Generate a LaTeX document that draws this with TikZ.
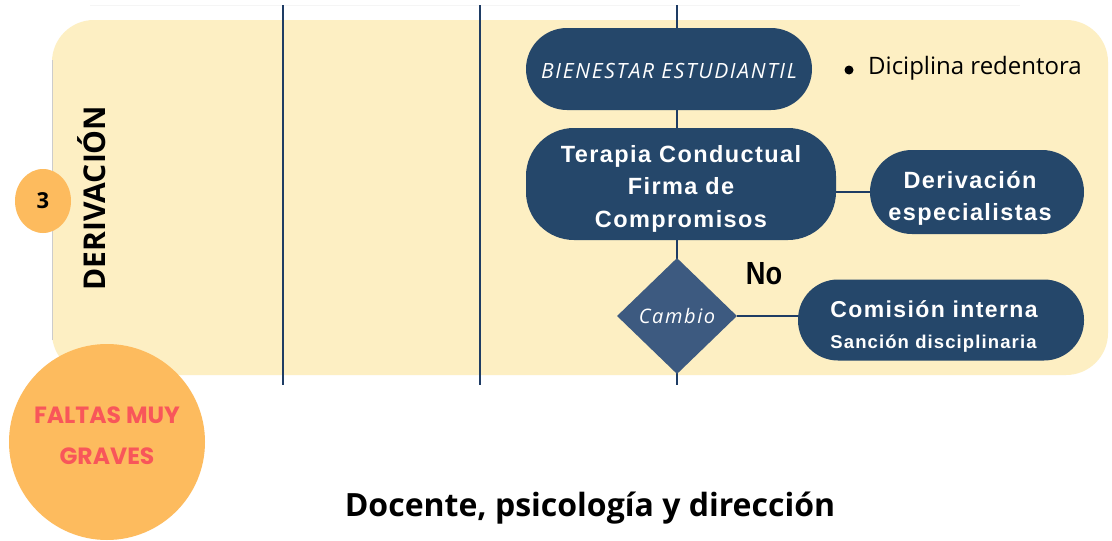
\documentclass[tikz,border=0pt]{standalone}
\usepackage{fontspec}
\usetikzlibrary{shapes.geometric}
\setmainfont{Open Sans}
\newfontfamily\boxfont[LetterSpace=6]{Liberation Sans}
\newfontfamily\handfont[LetterSpace=8]{Open Sans}
\newfontfamily\markfont{Poppins}
\newfontfamily\nofont{Liberation Sans}
\definecolor{band}{HTML}{FDEFC3}
\definecolor{navy}{HTML}{25476A}
\definecolor{dia}{HTML}{3D5A80}
\definecolor{lane}{HTML}{1E3C64}
\definecolor{orangec}{HTML}{FDBB5E}
\definecolor{redt}{HTML}{F8565A}
\newcommand{\shiftc}[2]{\raisebox{#1}[\height][\depth]{\begin{tabular}{@{}c@{}}#2\end{tabular}}}
\newcommand{\shiftl}[2]{\raisebox{#1}[\height][\depth]{\begin{tabular}{@{}l@{}}#2\end{tabular}}}
\begin{document}
\begin{tikzpicture}[x=1pt,y=-1pt,
  navybox/.style={fill=navy,text=white,inner sep=0pt,align=center},
  lanel/.style={draw=lane,line width=1.8pt},
  conn/.style={draw=lane,line width=1.5pt}]
\path[use as bounding box,fill=white] (0,0) rectangle (1112,541);
% faint top line
\draw[gray!8,line width=0.8pt] (90,5) -- (1020,5);
% band
\fill[band,rounded corners=42pt] (52,20) rectangle (1108,375);
\draw[gray!40,line width=0.6pt] (52.3,60) -- (52.3,340);
% lane lines
\coordinate (t1) at (283,5); \coordinate (b1) at (283,385);
\coordinate (t2) at (480,5); \coordinate (b2) at (480,385);
\coordinate (t3) at (677,5); \coordinate (b3) at (677,385);
\draw[lanel] (t1) -- (b1);
\draw[lanel] (t2) -- (b2);
\draw[lanel] (t3) -- (b3);
% nodes
\node[navybox,minimum width=286pt,minimum height=82pt,rounded corners=41pt,
  font=\handfont\itshape\fontsize{21}{24}\selectfont] (bien) at (669,69)
  {\raisebox{-2pt}[\height][\depth]{BIENESTAR ESTUDIANTIL}};
\node[anchor=west,inner sep=0pt,font=\fontsize{24}{28}\selectfont] (dic) at (868,68)
  {Diciplina redentora};
\fill (849,70) circle (4.5pt);
\node[navybox,minimum width=310pt,minimum height=112pt,rounded corners=48pt,
  font=\boxfont\bfseries\fontsize{23.5}{32.5}\selectfont] (ter) at (681,184)
  {\shiftc{-4pt}{Terapia Conductual\\Firma de\\Compromisos}};
\node[navybox,minimum width=214pt,minimum height=84pt,rounded corners=42pt,
  font=\boxfont\bfseries\fontsize{23.5}{32.5}\selectfont] (der) at (977,192)
  {\hspace*{-14pt}\shiftc{-6pt}{Derivación\\especialistas}};
\node[diamond,fill=dia,text=white,inner sep=0pt,minimum width=120pt,minimum height=116pt,
  font=\handfont\itshape\fontsize{20}{24}\selectfont] (cam) at (677,316)
  {Cambio};
\node[navybox,minimum width=286pt,minimum height=81pt,rounded corners=40pt,
  font=\boxfont\bfseries\fontsize{23}{31}\selectfont] (com) at (941,320)
  {\hspace*{-14pt}\shiftl{-7pt}{Comisión interna\\{\fontsize{18.5}{22}\selectfont Sanción disciplinaria}}};
\node[inner sep=0pt,font=\nofont\bfseries\fontsize{32}{36}\selectfont] (no) at (764,274)
  {\scalebox{0.85}[1]{No}};
% connectors
\draw[conn] (der.west -| ter.east) -- (der.west);
\draw[conn] (cam.east) -- (cam.east -| com.west);
% left side
\node[ellipse,fill=orangec,minimum width=56pt,minimum height=64pt,inner sep=0pt,
  font=\bfseries\fontsize{22}{26}\selectfont] (three) at (43,201)
  {3};
\node[rotate=90,inner sep=0pt,font=\bfseries\fontsize{30}{34}\selectfont] (deriv) at (92,198)
  {DERIVACIÓN};
\node[circle,fill=orangec,minimum size=196pt,inner sep=0pt,text=redt,
  font=\markfont\bfseries\fontsize{23.5}{41}\selectfont] (faltas) at (107,442)
  {\shiftc{6pt}{FALTAS MUY\\GRAVES}};
\node[inner sep=0pt,font=\bfseries\fontsize{32}{36}\selectfont] (title) at (590,508)
  {Docente, psicología y dirección};
\end{tikzpicture}
\end{document}
